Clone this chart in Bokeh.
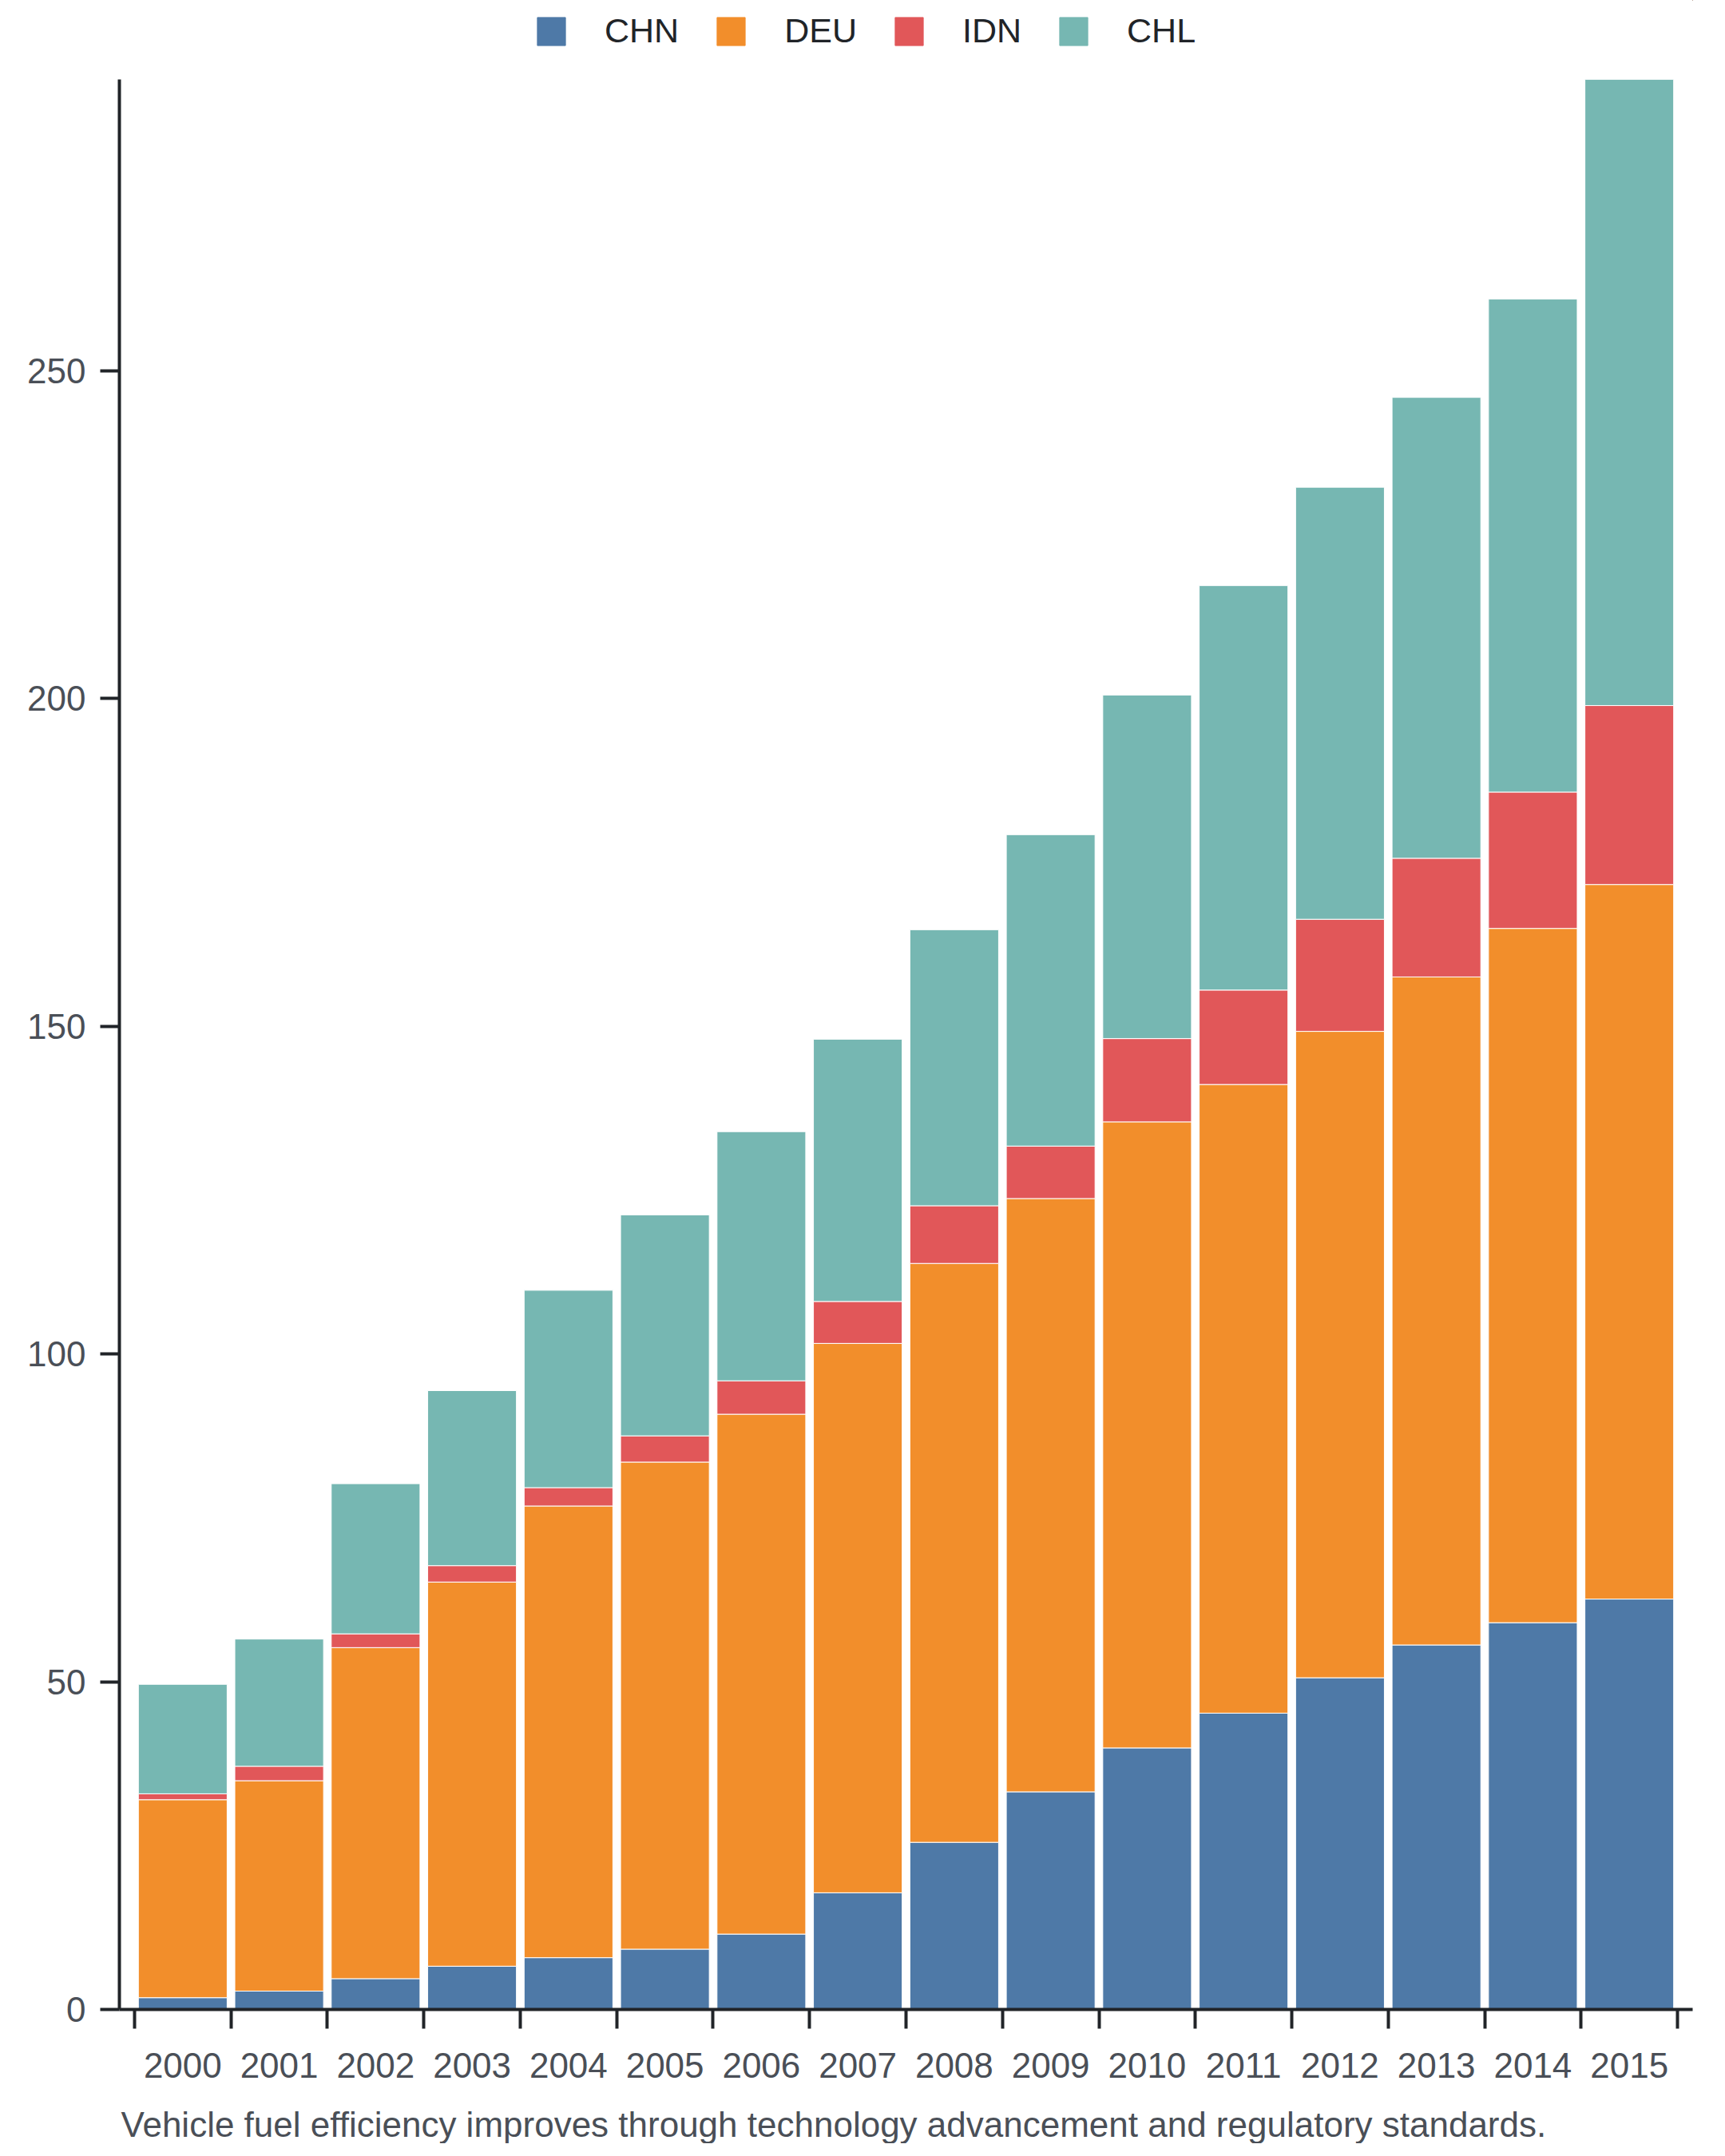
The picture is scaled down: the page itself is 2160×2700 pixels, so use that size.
from bokeh.plotting import figure
from bokeh.layouts import column
from bokeh.models import FixedTicker, Range1d, Legend, LegendItem, Label, ColumnDataSource
from bokeh.embed import file_html
from bokeh.resources import INLINE

years = [str(y) for y in range(2000, 2016)]
series = ["CHN", "DEU", "IDN", "CHL"]
chn = [1.8, 2.8, 4.7, 6.6, 7.9, 9.2, 11.5, 17.8, 25.5, 33.2, 39.9, 45.2, 50.6, 55.6, 59.0, 62.6]
deu = [30.2, 32.1, 50.5, 58.6, 68.9, 74.3, 79.3, 83.8, 88.3, 90.5, 95.5, 95.9, 98.6, 101.9, 105.9, 109.0]
idn = [0.9, 2.2, 2.1, 2.5, 2.8, 4.0, 5.1, 6.4, 8.8, 8.0, 12.7, 14.4, 17.1, 18.1, 20.8, 27.3]
chl = [16.7, 19.4, 22.9, 26.7, 30.1, 33.7, 38.0, 40.0, 42.1, 47.5, 52.4, 61.7, 65.9, 70.3, 75.2, 95.5]
y_ticks = [0, 50, 100, 150, 200, 250]
caption = "Vehicle fuel efficiency improves through technology advancement and regulatory standards."

colors = ["#4e79a7", "#f28e2b", "#e15759", "#76b7b2"]
FONT = "Liberation Sans"
FS = "44px"
TICK_COLOR = "#4a4f57"
AXIS_COLOR = "#212428"
LEGEND_COLOR = "#212428"

W, TOTAL_H = 2144, 2684
LEG_H, CAP_H = 64, 56
MAIN_H = TOTAL_H - LEG_H - CAP_H
BL, BR = 149, 25
BT = 99 - LEG_H
FRAME_H = 2417
BB = MAIN_H - BT - FRAME_H


def bare(fig):
    fig.outline_line_color = None
    fig.background_fill_color = "white"
    fig.border_fill_color = "white"
    fig.xgrid.visible = False
    fig.ygrid.visible = False
    return fig


# ---------------- main chart ----------------
xs = list(range(len(years)))
totals = [a + b + c + d for a, b, c, d in zip(chn, deu, idn, chl)]
src = ColumnDataSource(dict(x=xs, CHN=chn, DEU=deu, IDN=idn, CHL=chl))

pad = 0.157
p = figure(width=W, height=MAIN_H, output_backend="svg", toolbar_location=None,
           x_range=Range1d(-0.5 - pad, len(years) - 0.5 + pad),
           y_range=Range1d(0, max(totals)),
           min_border_left=BL, min_border_right=BR, min_border_top=BT, min_border_bottom=BB)
bare(p)

p.vbar_stack(series, x="x", width=0.92, source=src,
             fill_color=colors, line_color="white", line_width=1)

# x axis: labels centred on bars, ticks at band edges
xa = p.xaxis[0]
xa.ticker = FixedTicker(ticks=xs, minor_ticks=[i - 0.5 for i in range(len(years) + 1)])
xa.major_label_overrides = {i: y for i, y in zip(xs, years)}
xa.major_tick_line_color = None
xa.major_tick_out = 24
xa.major_tick_in = 0
xa.major_label_standoff = 30
xa.minor_tick_out = 24
xa.minor_tick_in = 0
xa.minor_tick_line_color = AXIS_COLOR
xa.minor_tick_line_width = 4
xa.axis_line_color = AXIS_COLOR
xa.axis_line_width = 4
xa.major_label_text_font_size = FS
xa.major_label_text_color = TICK_COLOR
xa.major_label_text_font = FONT

ya = p.yaxis[0]
ya.ticker = FixedTicker(ticks=y_ticks)
ya.major_tick_out = 24
ya.major_tick_in = 0
ya.major_tick_line_color = AXIS_COLOR
ya.major_tick_line_width = 4
ya.minor_tick_line_color = None
ya.major_label_standoff = 18
ya.axis_line_color = AXIS_COLOR
ya.axis_line_width = 4
ya.major_label_text_font_size = FS
ya.major_label_text_color = TICK_COLOR
ya.major_label_text_font = FONT

# ---------------- legend strip (frames are aligned with the chart) ----------------
lg = figure(width=W, height=LEG_H, output_backend="svg", toolbar_location=None,
            x_range=Range1d(0, 1), y_range=Range1d(0, 1),
            x_axis_type=None, y_axis_type=None,
            min_border_left=0, min_border_right=0, min_border_top=0, min_border_bottom=0)
bare(lg)
# swatch renderers kept outside the visible range, used only for the legend
dummies = [lg.vbar(x=[5], top=[5], bottom=[4], width=0.5, fill_color=c, line_color=c)
           for c in colors]
legend = Legend(items=[LegendItem(label=s, renderers=[r]) for s, r in zip(series, dummies)],
                orientation="horizontal", location=(519, 1),
                glyph_width=44, glyph_height=44, label_standoff=45, spacing=43,
                padding=0, margin=0, border_line_color=None, background_fill_alpha=0,
                label_text_font_size="43px", label_text_color=LEGEND_COLOR,
                label_text_font=FONT)
lg.add_layout(legend, "center")

# ---------------- caption strip ----------------
cp = figure(width=W, height=CAP_H, output_backend="svg", toolbar_location=None,
            x_range=Range1d(0, 1), y_range=Range1d(0, 1),
            x_axis_type=None, y_axis_type=None,
            min_border_left=0, min_border_right=0, min_border_top=0, min_border_bottom=0)
bare(cp)
cp.add_layout(Label(x=2, y=24, x_units="screen", y_units="screen", text=caption,
                    text_align="left", text_baseline="middle", text_font_size=FS,
                    text_color=TICK_COLOR, text_font=FONT), "center")

layout = column(lg, p, cp, spacing=0)
open("out.html", "w").write(file_html(layout, INLINE))
